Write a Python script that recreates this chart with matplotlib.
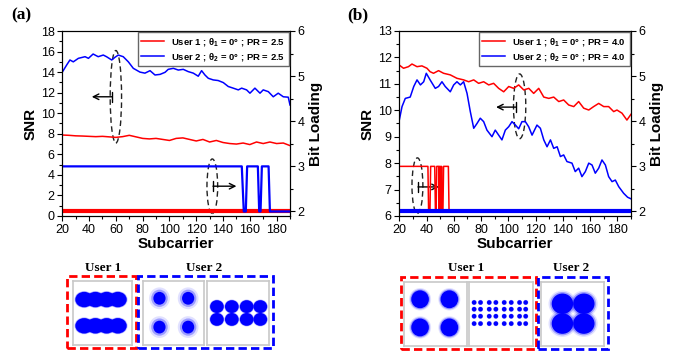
import matplotlib
matplotlib.use('Agg')
import matplotlib.pyplot as plt
from matplotlib.patches import Ellipse, Rectangle
from matplotlib.lines import Line2D

plt.rcParams['font.family'] = 'Liberation Sans'
plt.rcParams['mathtext.fontset'] = 'custom'
plt.rcParams['mathtext.rm'] = 'Liberation Sans:bold'
plt.rcParams['mathtext.it'] = 'Liberation Sans:bold'
plt.rcParams['mathtext.bf'] = 'Liberation Sans:bold'

# ---- panel (a) data : PR = 2.5 ----
sub_a_u1 = [20, 25, 30, 35, 40, 45, 50, 55, 60, 65, 70, 75, 80, 85, 90, 95, 100, 105, 110, 115,
            120, 125, 130, 135, 140, 145, 150, 155, 160, 165, 170, 175, 180, 185, 190]
snr_a_u1 = [7.88, 7.85, 7.8, 7.78, 7.75, 7.72, 7.75, 7.7, 7.65, 7.72, 7.85, 7.7, 7.55, 7.5, 7.55, 7.45, 7.35, 7.55, 7.6, 7.45,
            7.3, 7.45, 7.2, 7.35, 7.15, 7.05, 7.0, 7.1, 6.95, 7.2, 7.05, 7.2, 7.05, 7.1, 6.85]

sub_a_u2 = [20, 23.3, 25.7, 28.2, 32, 37, 39.5, 43, 46.8, 50.6, 53, 56.9, 59.3, 61.8, 65.5, 69.3, 73, 78, 81.7, 85.5,
            89.2, 93, 96.7, 99.1, 102.9, 106.6, 110.3, 114, 117.8, 121.5, 124, 126.5, 129, 132.7, 136.4, 140.2, 143.9,
            147.6, 151.4, 153.9, 157.6, 160.1, 163.8, 167.6, 170, 173.8, 177.5, 181.2, 185, 188.7, 190]
snr_a_u2 = [14.0, 14.7, 15.18, 15.0, 15.34, 15.5, 15.34, 15.76, 15.5, 15.66, 15.5, 15.18, 15.44, 15.66, 15.5, 15.0, 14.37, 14.0, 13.9, 14.14,
            13.72, 13.78, 13.98, 14.27, 14.37, 14.2, 14.27, 14.05, 13.9, 13.6, 14.14, 13.72, 13.4, 13.24, 13.18, 12.98, 12.6,
            12.44, 12.27, 12.44, 12.27, 11.95, 12.44, 11.95, 12.27, 12.1, 11.6, 11.95, 11.6, 11.56, 10.8]

bit_a_u1_x = [20, 190]
bit_a_u1 = [2, 2]
bit_a_u2_x = [20, 154, 155.5, 157, 158, 166, 167, 168, 169, 174, 175, 190]
bit_a_u2 = [3, 3, 2, 2, 3, 3, 2, 2, 3, 3, 2, 2]

# ---- panel (b) data : PR = 4.0 ----
sub_b_u1 = [20, 23.1, 26.7, 29.3, 33, 36.6, 40.3, 42.6, 45.1, 48.8, 52.5, 57.4, 62.3, 67.2, 70.9, 74.6, 78.2, 81.9, 85.6, 89.2,
            92.9, 96.6, 100.3, 103.9, 107.6, 111.3, 115, 118.6, 122.3, 126, 129.7, 133.3, 137, 140.6, 144.3, 148, 151.6,
            155.3, 159, 162.6, 166.3, 170, 173.6, 177.3, 179.7, 183.4, 187, 190]
snr_b_u1 = [11.71, 11.59, 11.65, 11.75, 11.65, 11.68, 11.59, 11.46, 11.4, 11.5, 11.4, 11.34, 11.21, 11.15, 11.08, 11.15, 11.02, 11.08, 10.96, 11.02,
            10.83, 10.7, 10.9, 10.83, 10.96, 10.77, 10.83, 10.64, 10.83, 10.5, 10.45, 10.5, 10.33, 10.39, 10.2, 10.14, 10.33,
            10.08, 10.01, 10.14, 10.26, 10.14, 10.14, 9.95, 10.01, 9.89, 9.63, 9.85]

sub_b_u2 = [20, 22, 24.4, 28, 30.6, 33, 35.5, 37.9, 39.8, 42.6, 46.4, 48.8, 51.3, 53.7, 57.4, 59.9, 62.3, 64.8, 67.2, 69.7,
            72.1, 74.6, 77, 79.4, 81.9, 84.3, 88, 90.4, 92.9, 95.3, 97.8, 100.3, 102.7, 105.2, 107.6, 110, 112.5, 114.9,
            117.4, 121, 123.5, 126, 128.4, 130.9, 133.3, 135.8, 138.2, 140.6, 143, 146.7, 149.1, 151.6, 154, 156.5, 159,
            161.4, 163.8, 166.3, 168.7, 171.2, 173.6, 176.1, 178.5, 181, 184.6, 187.5, 190]
snr_b_u2 = [9.63, 10.14, 10.45, 10.5, 10.9, 11.15, 10.96, 11.08, 11.4, 11.15, 10.83, 10.9, 11.08, 10.9, 10.7, 10.96, 11.08, 10.96, 11.08, 10.64,
            9.95, 9.32, 9.5, 9.7, 9.57, 9.25, 9.0, 9.25, 9.06, 8.88, 9.25, 9.38, 9.57, 9.44, 9.3, 9.57, 9.57, 9.38,
            9.06, 9.44, 9.32, 8.88, 8.62, 8.88, 8.56, 8.62, 8.25, 8.31, 8.06, 8.0, 7.68, 7.81, 7.49, 7.68, 8.0,
            7.93, 7.62, 7.81, 8.12, 7.93, 7.49, 7.3, 7.36, 7.11, 6.86, 6.71, 6.65]

bit_b_u1_x = [20, 41, 41.5, 42.5, 43, 46, 46.5, 47, 47.5, 49, 49.3, 49.6, 50, 50.3, 50.6, 51, 51.3, 52, 52.5, 56, 56.5, 190]
bit_b_u1 = [3, 3, 2, 2, 3, 3, 2, 2, 3, 3, 2, 3, 2, 3, 2, 3, 2, 2, 3, 3, 2, 2]
bit_b_u2_x = [20, 190]
bit_b_u2 = [2, 2]

legend_a = [r'User 1 ; θ$_1$ = 0° ; PR = 2.5', r'User 2 ; θ$_2$ = 0° ; PR = 2.5']
legend_b = [r'User 1 ; θ$_1$ = 0° ; PR = 4.0', r'User 2 ; θ$_2$ = 0° ; PR = 4.0']

# constellation cluster centres (fraction of the small square, y from top)
const_a = [
    ([0.19, 0.38, 0.57, 0.76, 0.19, 0.38, 0.57, 0.76], [0.29, 0.29, 0.29, 0.29, 0.70, 0.70, 0.70, 0.70]),
    ([0.27, 0.74, 0.27, 0.74], [0.27, 0.27, 0.72, 0.72]),
    ([0.16, 0.40, 0.64, 0.86, 0.16, 0.40, 0.64, 0.86], [0.40, 0.40, 0.40, 0.40, 0.60, 0.60, 0.60, 0.60]),
]
const_b = [
    ([0.255, 0.72, 0.255, 0.72], [0.27, 0.27, 0.71, 0.71]),
    ([0.08, 0.18, 0.316, 0.42, 0.55, 0.66, 0.79, 0.886] * 4,
     [0.32] * 8 + [0.425] * 8 + [0.535] * 8 + [0.65] * 8),
    ([0.34, 0.68, 0.34, 0.68], [0.34, 0.34, 0.65, 0.65]),
]

W, H = 682, 357
fig = plt.figure(figsize=(W / 100, H / 100), dpi=100)


def box(x0, y0, x1, y1):
    return [x0 / W, 1 - y1 / H, (x1 - x0) / W, (y1 - y0) / H]


def style_axes(ax, twin, ymaj, ymin):
    ax.set_xlim(20, 190)
    ax.set_xticks(range(20, 191, 20))
    ax.set_xticks(range(30, 191, 20), minor=True)
    ax.set_yticks(ymaj)
    ax.set_yticks(ymin, minor=True)
    ax.tick_params(which='both', direction='out', labelsize=9, width=0.8, top=False, pad=2)
    ax.tick_params(which='major', length=3.5)
    ax.tick_params(which='minor', length=2)
    twin.set_ylim(1.9, 6)
    twin.set_yticks([2, 3, 4, 5, 6])
    twin.set_yticks([2.5, 3.5, 4.5, 5.5], minor=True)
    twin.tick_params(which='both', direction='out', labelsize=9, width=0.8, pad=2)
    twin.tick_params(which='major', length=3.5)
    twin.tick_params(which='minor', length=2)
    ax.set_xlabel('Subcarrier', fontsize=11, fontweight='bold', labelpad=1)
    ax.set_ylabel('SNR', fontsize=11, fontweight='bold', labelpad=2)
    twin.set_ylabel('Bit Loading', fontsize=11, fontweight='bold', labelpad=3)


def arrow(ax, x0, x1, y):
    ax.annotate('', xy=(x1, y), xytext=(x0, y),
                arrowprops=dict(arrowstyle=']->,widthA=0.35,lengthA=0',
                                color='black', lw=1, shrinkA=0, shrinkB=0))


def ring(ax, cx, cy, w, h):
    ax.add_patch(Ellipse((cx, cy), w, h, fill=False, ls=(0, (4, 2.5)), lw=1, ec='#222222'))


# ---- panel (a) ----
ax1 = fig.add_axes(box(62.3, 31, 290, 216))
ax1b = ax1.twinx()
ax1.plot(sub_a_u1, snr_a_u1, color='red', lw=1.1)
ax1.plot(sub_a_u2, snr_a_u2, color='blue', lw=1.1)
ax1b.plot(bit_a_u1_x, bit_a_u1, color='red', lw=3)
ax1b.plot(bit_a_u2_x, bit_a_u2, color='blue', lw=1.6)
ax1.set_ylim(0, 18)
style_axes(ax1, ax1b, range(0, 19, 2), range(1, 18, 2))
ring(ax1, 60, 11.6, 8.5, 9.0)
arrow(ax1, 57, 42, 11.6)
ring(ax1, 132, 2.9, 8, 5.3)
arrow(ax1, 132.5, 150, 2.9)
h = [Line2D([], [], color='red', lw=1.1), Line2D([], [], color='blue', lw=1.1)]
ax1b.legend(h, legend_a, loc='upper right', prop={'weight': 'bold', 'size': 6.8},
            frameon=True, fancybox=False, edgecolor='#666666', framealpha=1,
            handlelength=2.4, borderaxespad=0.15, labelspacing=0.35, borderpad=0.35)

# ---- panel (b) ----
ax2 = fig.add_axes(box(399.3, 31, 631, 216))
ax2b = ax2.twinx()
ax2.plot(sub_b_u1, snr_b_u1, color='red', lw=1.1)
ax2.plot(sub_b_u2, snr_b_u2, color='blue', lw=1.1)
ax2b.plot(bit_b_u1_x, bit_b_u1, color='red', lw=1.1)
ax2b.plot(bit_b_u2_x, bit_b_u2, color='blue', lw=3)
ax2.set_ylim(6, 13)
style_axes(ax2, ax2b, range(6, 14), [6.5 + i for i in range(7)])
ring(ax2, 108.3, 10.15, 9, 2.45)
arrow(ax2, 105.6, 91, 10.12)
ring(ax2, 33.3, 7.15, 8, 2.1)
arrow(ax2, 33.7, 49, 7.1)
h = [Line2D([], [], color='red', lw=1.1), Line2D([], [], color='blue', lw=1.1)]
ax2b.legend(h, legend_b, loc='upper right', prop={'weight': 'bold', 'size': 6.8},
            frameon=True, fancybox=False, edgecolor='#666666', framealpha=1,
            handlelength=2.4, borderaxespad=0.15, labelspacing=0.35, borderpad=0.35)

fig.text(21 / W, 1 - 15 / H, '(a)', family='Liberation Serif', fontweight='bold', fontsize=12.5,
         ha='center', va='center')
fig.text(358 / W, 1 - 15 / H, '(b)', family='Liberation Serif', fontweight='bold', fontsize=12.5,
         ha='center', va='center')

# ---- constellation insets ----
sizes_a = [(0.3, 0.24), (0.2, 0.2), (0.22, 0.2)]
sizes_b = [(0.28, 0.28), (0.07, 0.07), (0.34, 0.32)]
halo_a = [1.12, 1.7, 1.12]
halo_b = [1.25, 1.2, 1.3]
squares_a = [(73, 281, 132, 345), (143, 281, 204, 345), (207, 281, 269, 345)]
squares_b = [(404, 282, 467, 346), (469, 282, 533, 346), (541, 282, 604, 346)]


def constellation(sq, pts, size, halo):
    cax = fig.add_axes(box(*sq))
    cax.set_xlim(0, 1)
    cax.set_ylim(1, 0)
    cax.set_xticks([])
    cax.set_yticks([])
    for s in cax.spines.values():
        s.set_color('#c8c8c8')
        s.set_linewidth(1.2)
    w, hh = size
    for x, y in zip(*pts):
        cax.add_patch(Ellipse((x, y), w * halo, hh * halo, color='#5a5aff', alpha=0.18, lw=0))
    for x, y in zip(*pts):
        cax.add_patch(Ellipse((x, y), w * (1 + halo) / 2, hh * (1 + halo) / 2, color='#2020ff', alpha=0.35, lw=0))
    for x, y in zip(*pts):
        cax.add_patch(Ellipse((x, y), w, hh, color='blue', lw=0))


for sq, pts, sz, hl in zip(squares_a, const_a, sizes_a, halo_a):
    constellation(sq, pts, sz, hl)
for sq, pts, sz, hl in zip(squares_b, const_b, sizes_b, halo_b):
    constellation(sq, pts, sz, hl)

dashed = [((67, 276, 136, 348), 'red'), ((138, 276, 273, 348), 'blue'),
          ((401, 277, 536, 349), 'red'), ((538, 277, 608, 349), 'blue')]
for (x0, y0, x1, y1), c in dashed:
    fig.patches.append(Rectangle((x0 / W, 1 - y1 / H), (x1 - x0) / W, (y1 - y0) / H,
                                 transform=fig.transFigure, fill=False, ec=c, lw=2,
                                 ls=(0, (3, 1.5))))

for x, t in [(103, 'User 1'), (204, 'User 2'), (466, 'User 1'), (571, 'User 2')]:
    fig.text(x / W, 1 - 268 / H, t, family='Liberation Serif', fontweight='bold', fontsize=9.5,
             ha='center', va='center')

fig.savefig('out.png', dpi=100)
